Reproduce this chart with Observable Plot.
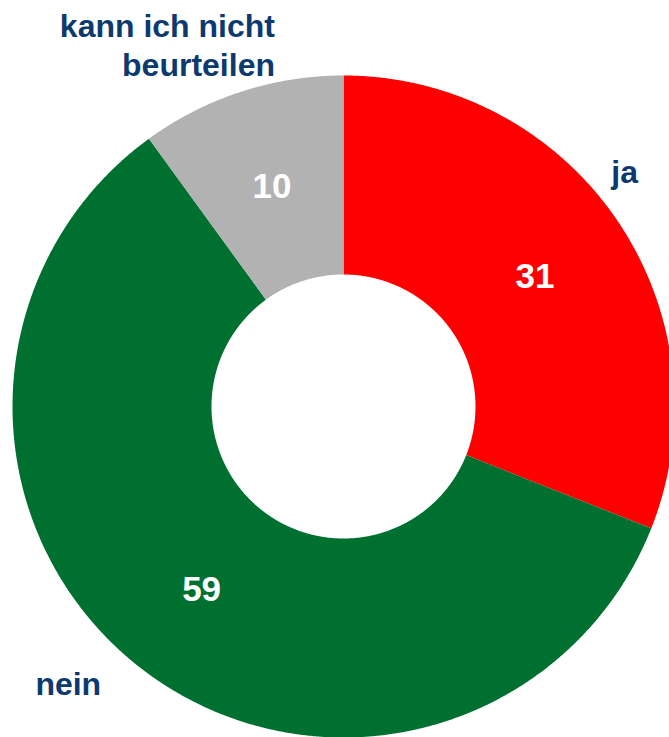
<!DOCTYPE html>
<html><head><meta charset="utf-8">
<script src="https://cdn.jsdelivr.net/npm/d3@7"></script>
<script src="https://cdn.jsdelivr.net/npm/@observablehq/plot@0.6"></script>
<style>html,body{margin:0;padding:0;background:#fff;overflow:hidden}</style>
</head><body><div id="chart"></div>
<script>
// Data
const categories = ["ja", "nein", "kann ich nicht beurteilen"];
const values = [31, 59, 10];
const categoryLabels = ["ja", "nein", "kann ich nicht\nbeurteilen"];
const colors = ["#ff0000", "#007030", "#b2b2b2"];

// Layout (not data)
const W = 669, H = 737;
const cx = 343, cy = 406, Rpx = 331;
const innerRatio = 132 / 331;
const labelRadius = (1 + innerRatio) / 2;
// outer category label placement: [angle in degrees clockwise from top, radius factor]
const catPlacement = [[50.0, 1.109], [224.9, 1.178], [349.3, 1.115]];
const catAnchor = ["middle", "middle", "end"];

const rows = categories.map((c, i) => ({cat: c, value: values[i], label: categoryLabels[i]}));
const arcs = d3.pie().sort(null).value(d => d.value)(rows);

const pts = [];
for (const a of arcs) {
  const n = Math.max(2, Math.ceil((a.endAngle - a.startAngle) / 0.005));
  for (let k = 0; k <= n; k++) {
    const t = a.startAngle + (a.endAngle - a.startAngle) * k / n;
    pts.push({cat: a.data.cat, x: Math.sin(t), y: Math.cos(t)});
  }
  for (let k = n; k >= 0; k--) {
    const t = a.startAngle + (a.endAngle - a.startAngle) * k / n;
    pts.push({cat: a.data.cat, x: innerRatio * Math.sin(t), y: innerRatio * Math.cos(t)});
  }
}

const valueLabels = arcs.map(a => {
  const m = (a.startAngle + a.endAngle) / 2;
  return {text: String(a.data.value), x: labelRadius * Math.sin(m), y: labelRadius * Math.cos(m)};
});
const catLabels = arcs.map((a, i) => {
  const [deg, r] = catPlacement[i];
  const t = deg * Math.PI / 180;
  return {text: a.data.label, x: r * Math.sin(t), y: r * Math.cos(t), anchor: catAnchor[i]};
});

const font = "'Liberation Sans', Arial, sans-serif";
const chart = Plot.plot({
  width: W, height: H,
  margin: 0,
  style: {background: "#fff", fontFamily: font, overflow: "visible"},
  x: {domain: [-cx / Rpx, (W - cx) / Rpx], range: [0, W], axis: null},
  y: {domain: [-(H - cy) / Rpx, cy / Rpx], range: [H, 0], axis: null},
  color: {domain: categories, range: colors},
  marks: [
    Plot.line(pts, {x: "x", y: "y", z: "cat", fill: "cat", stroke: "none", curve: "linear-closed"}),
    Plot.text(valueLabels, {x: "x", y: "y", text: "text", fill: "#fff", fontSize: 35, fontWeight: "bold", fontFamily: font}),
    ...["middle", "end"].map(anc => Plot.text(catLabels.filter(d => d.anchor === anc), {
      x: "x", y: "y", text: "text", textAnchor: anc, fill: "#0d3a6e", fontSize: 32, fontWeight: "bold", fontFamily: font, lineHeight: 1.22
    }))
  ]
});
document.getElementById("chart").appendChild(chart);
</script>
</body></html>
